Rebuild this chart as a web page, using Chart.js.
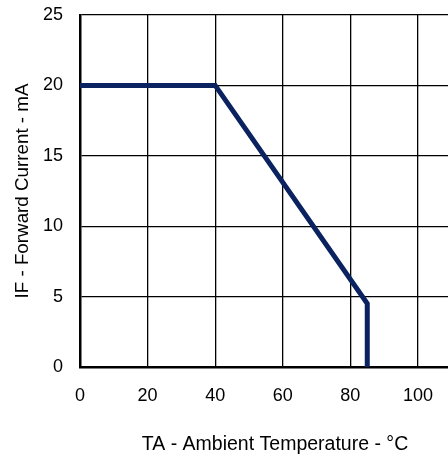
<!DOCTYPE html>
<html>
<head>
<meta charset="utf-8">
<script src="https://cdn.jsdelivr.net/npm/chart.js@4"></script>
<style>
  html, body { margin: 0; padding: 0; background: #fff; overflow: hidden; }
  /* plot is wider than the window so it runs off the right edge like the cropped original */
  #wrap { width: 470px; height: 459px; position: relative; }
</style>
</head>
<body>
<div id="wrap"><canvas id="derating"></canvas></div>
<script>
// Derating curve: forward current vs ambient temperature
const temps = [0, 40, 85, 85];
const currents = [20, 20, 4.5, 0];
const xTicks = [0, 20, 40, 60, 80, 100];
const yTicks = [0, 5, 10, 15, 20, 25];

const fontFamily = 'Liberation Sans, Arial, sans-serif';
const tickFont = { family: fontFamily, size: 18 };

const ctx = document.getElementById('derating').getContext('2d');
new Chart(ctx, {
    type: 'line',
    data: {
        datasets: [{
            data: temps.map((t, i) => ({ x: t, y: currents[i] })),
            borderColor: '#0a2360',
            borderWidth: 5,
            pointRadius: 0,
            fill: false,
            tension: 0
        }]
    },
    options: {
        responsive: true,
        maintainAspectRatio: false,
        animation: false,
        layout: { padding: { top: 15, right: 0, left: 0, bottom: 0 } },
        plugins: { legend: { display: false }, tooltip: { enabled: false } },
        scales: {
            x: {
                type: 'linear',
                min: 0,
                max: 115.4,
                afterBuildTicks: (scale) => { scale.ticks = xTicks.map(v => ({ value: v })); },
                afterFit: (scale) => {
                    scale.height = 92;
                    scale.paddingLeft = 0;
                    scale.paddingRight = 0;
                },
                ticks: { color: '#000', font: tickFont, padding: 18, maxRotation: 0 },
                grid: { color: '#000', lineWidth: 1.3, drawTicks: false },
                border: { color: '#000', width: 2.5 },
                title: {
                    display: true,
                    text: 'TA - Ambient Temperature - °C',
                    color: '#000',
                    font: { family: fontFamily, size: 19.5 },
                    padding: { top: 0, bottom: 3 }
                }
            },
            y: {
                min: 0,
                max: 25,
                afterBuildTicks: (scale) => { scale.ticks = yTicks.map(v => ({ value: v })); },
                afterFit: (scale) => {
                    scale.width = 80;
                    scale.paddingTop = 0;
                    scale.paddingBottom = 0;
                },
                ticks: { color: '#000', font: tickFont, padding: 17 },
                grid: { color: '#000', lineWidth: 1.3, drawTicks: false },
                border: { color: '#000', width: 2.5 },
                title: {
                    display: true,
                    text: 'IF - Forward Current - mA',
                    color: '#000',
                    font: { family: fontFamily, size: 18.8 },
                    padding: { top: 12, bottom: 0 }
                }
            }
        }
    }
});
</script>
</body>
</html>
